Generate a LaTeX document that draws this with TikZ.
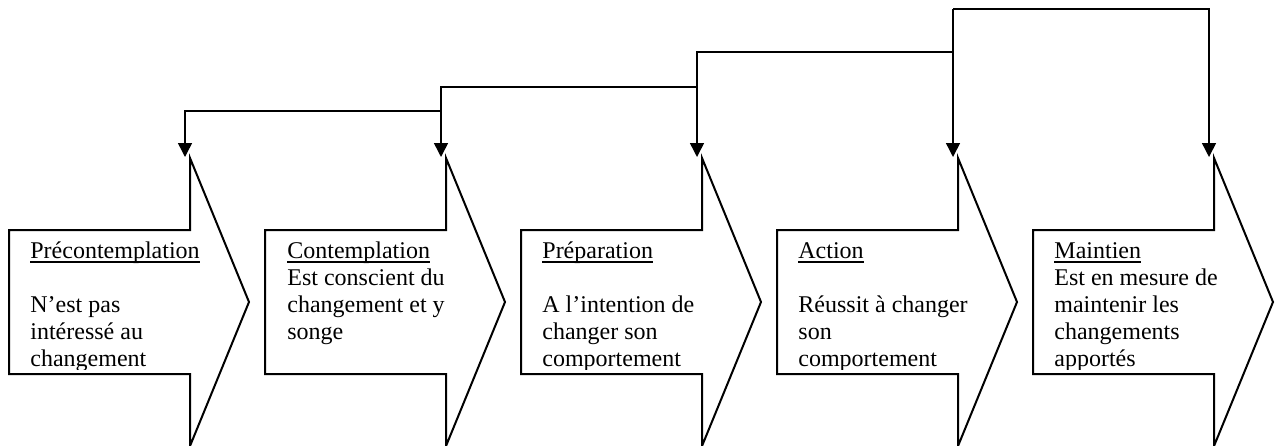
\documentclass[tikz,border=0pt]{standalone}
\usepackage{fontspec}
\setmainfont{Liberation Serif}
\usetikzlibrary{arrows.meta}
\newcommand\ulword[1]{\leavevmode\setbox0\hbox{#1}\rlap{\rule[-2.3pt]{\wd0}{0.6pt}}#1}
\tikzset{
  outline/.style={draw=black, line width=1pt, line join=miter, fill=white},
  conn/.style={draw=black, line width=0.75pt, -{Triangle[width=7pt,length=7pt]}},
  st/.style={anchor=base west, inner sep=0pt, font=\fontsize{12pt}{13.6pt}\selectfont}
}
\begin{document}
\begin{tikzpicture}[x=0.5pt,y=-0.5pt]
\useasboundingbox (0,0) rectangle (1277,445);
\foreach \i in {1,...,5}{
  \pgfmathsetmacro\L{9+256*(\i-1)}
  \draw[outline] (\L,230) -- (\L+181,230) -- (\L+181,158) -- (\L+240,302)
     -- (\L+181,446) -- (\L+181,374) -- (\L,374) -- cycle;
  \coordinate (a\i) at (\L+176,157);
}
% baselines: 258, 285.2, 312.4, 339.6, 366.8 ; text clipped just below the last one
\begin{scope}
  \clip (9,230) rectangle (249,369);
  \node[st] (t1)  at (30,258)   {\ulword{Précontemplation}};
  \node[st] (t1c) at (30,312.4) {N’est pas};
  \node[st] (t1d) at (30,339.6) {intéressé au};
  \node[st] (t1e) at (30,366.8) {changement};
\end{scope}
\begin{scope}
  \clip (265,230) rectangle (505,369);
  \node[st] (t2)  at (287,258)   {\ulword{Contemplation}};
  \node[st] (t2b) at (287,285.2) {Est conscient du};
  \node[st] (t2c) at (287,312.4) {changement et y};
  \node[st] (t2d) at (287,339.6) {songe};
\end{scope}
\begin{scope}
  \clip (521,230) rectangle (761,369);
  \node[st] (t3)  at (542,258)   {\ulword{Préparation}};
  \node[st] (t3c) at (542,312.4) {A l’intention de};
  \node[st] (t3d) at (542,339.6) {changer son};
  \node[st] (t3e) at (542,366.8) {comportement};
\end{scope}
\begin{scope}
  \clip (777,230) rectangle (1017,369);
  \node[st] (t4)  at (798,258)   {\ulword{Action}};
  \node[st] (t4c) at (798,312.4) {Réussit à changer};
  \node[st] (t4d) at (798,339.6) {son};
  \node[st] (t4e) at (798,366.8) {comportement};
\end{scope}
\begin{scope}
  \clip (1033,230) rectangle (1273,369);
  \node[st] (t5)  at (1054,258)   {\ulword{Maintien}};
  \node[st] (t5b) at (1054,285.2) {Est en mesure de};
  \node[st] (t5c) at (1054,312.4) {maintenir les};
  \node[st] (t5d) at (1054,339.6) {changements};
  \node[st] (t5e) at (1054,366.8) {apportés};
\end{scope}
% connectors
\coordinate (r4) at (953,9);
\coordinate (b3) at (953,52);
\coordinate (b2) at (697,87);
\coordinate (b1) at (441,111);
\draw[conn] (r4) -| (a5);
\draw[conn] (r4) -- (a4);
\draw[conn] (b3) -| (a3);
\draw[conn] (b2) -| (a2);
\draw[conn] (b1) -| (a1);
\end{tikzpicture}
\end{document}
